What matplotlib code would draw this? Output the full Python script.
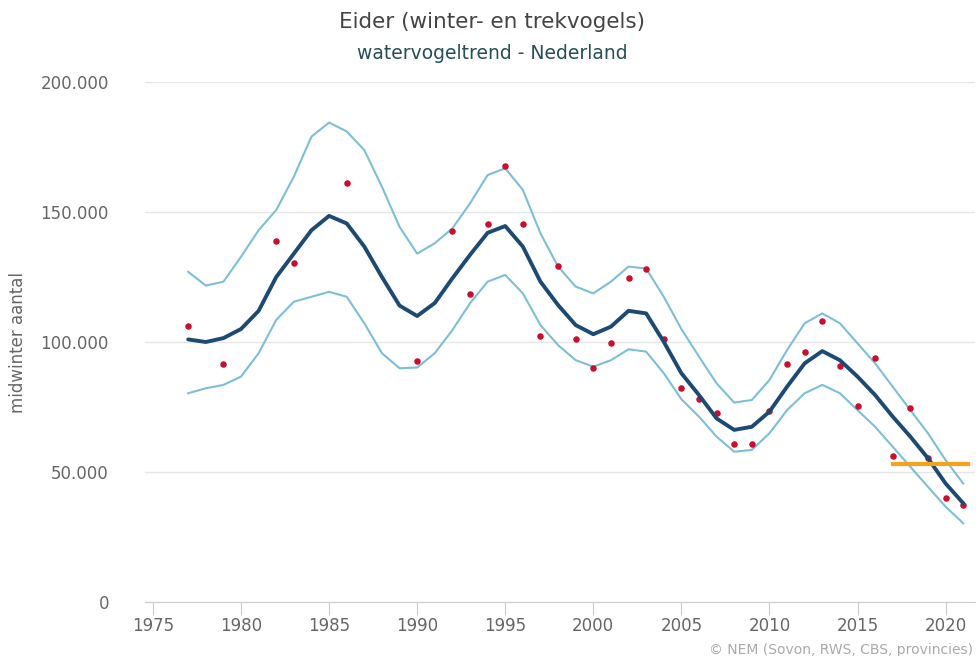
import numpy as np
import matplotlib
matplotlib.use("Agg")
import matplotlib.pyplot as plt
from matplotlib.ticker import FuncFormatter

# trend (x1000 birds)
years = list(range(1977, 2022))
trend = [101, 100, 101.5, 105, 112, 125, 134, 143, 148.5, 145.6, 136.7, 125, 114, 110,
         115, 124.5, 133.5, 142, 144.6, 136.7, 123.2, 114.2, 106.5, 103, 105.9, 112, 111,
         100.1, 88, 79.6, 70.6, 66.2, 67.4, 73.2, 82.8, 91.8, 96.5, 93, 86.7, 79.6, 71.3,
         63.6, 55.3, 45.6, 38]
upper = [127, 121.7, 123.2, 132.8, 143, 150.8, 163.6, 179, 184.4, 181, 173.8, 159.7, 144.3,
         134, 138, 143.7, 153.3, 164.2, 166.8, 158.5, 141.8, 129, 121.3, 118.7, 123.2, 129,
         128.3, 117.4, 105, 94.4, 84.1, 76.7, 77.7, 85.4, 96.9, 107.2, 111, 107.2, 99.5,
         91.8, 82.8, 73.8, 64.9, 54.6, 45.6]
lower = [80.3, 82.2, 83.5, 86.7, 95.7, 108.5, 115.5, 117.4, 119.3, 117.4, 107.2, 95.7, 89.9,
         90.2, 95.7, 104.6, 114.9, 123.2, 125.8, 118.7, 106.5, 98.8, 93, 90.5, 93, 97.2,
         96.3, 88, 78, 71.3, 63.6, 57.8, 58.5, 64.9, 73.8, 80.3, 83.5, 80.3, 73.8, 67.4,
         59.7, 52, 44.3, 36.7, 30.3]

# yearly counts (x1000)
count_years = [1977, 1979, 1982, 1983, 1986, 1990, 1992, 1993, 1994, 1995, 1996, 1997,
               1998, 1999, 2000, 2001, 2002, 2003, 2004, 2005, 2006, 2007, 2008, 2009,
               2010, 2011, 2012, 2013, 2014, 2015, 2016, 2017, 2018, 2019, 2020, 2021]
counts = [106.2, 91.4, 138.8, 130.5, 161.3, 92.7, 142.8, 118.3, 145.3, 167.8, 145.3, 102.3,
          129.2, 101, 90.1, 99.7, 124.7, 128, 101, 82.4, 78, 72.8, 60.6, 60.6, 73.5, 91.4,
          96, 108.1, 90.8, 75.4, 94, 56.2, 74.7, 55.5, 40.1, 37.3]

# reference level
ref_years = [2017, 2021.3]
ref_level = 53

to_n = lambda v: np.array(v) * 1000

fig = plt.figure(figsize=(9.76, 6.56), dpi=100)
ax = fig.add_axes([0.1486, 0.0823, 0.85, 0.7927])

ax.plot(years, to_n(upper), color="#7dbfd6", lw=1.5, zorder=2)
ax.plot(years, to_n(lower), color="#7dbfd6", lw=1.5, zorder=2)
ax.scatter(count_years, to_n(counts), s=22, color="#c8102e", zorder=3, linewidths=0)
ax.plot(years, to_n(trend), color="#1d4a72", lw=2.8, zorder=4, solid_capstyle="round")
ax.plot(ref_years, [ref_level * 1000] * 2, color="#f5a21c", lw=3, zorder=5)

ax.set_xlim(1974.55, 2021.65)
ax.set_ylim(0, 200000)
ax.set_yticks([0, 50000, 100000, 150000, 200000])
ax.set_xticks(range(1975, 2021, 5))
ax.yaxis.set_major_formatter(FuncFormatter(lambda v, p: f"{int(v):,}".replace(",", ".")))

ax.grid(axis="y", color="#e6e6e6", lw=1)
ax.set_axisbelow(True)
for s in ["top", "right", "left"]:
    ax.spines[s].set_visible(False)
ax.spines["bottom"].set_color("#cccccc")
ax.tick_params(axis="y", length=0, labelsize=12, labelcolor="#666666", pad=26)
ax.tick_params(axis="x", length=9, color="#cccccc", labelsize=12, labelcolor="#666666", pad=2)

ax.set_ylabel("midwinter aantal", fontsize=12, color="#666666", labelpad=10)

fig.text(0.504, 0.966, "Eider (winter- en trekvogels)", ha="center", va="center",
         fontsize=15.5, color="#444444")
fig.text(0.504, 0.918, "watervogeltrend - Nederland", ha="center", va="center",
         fontsize=13.5, color="#244f57")
fig.text(0.997, 0.009, "© NEM (Sovon, RWS, CBS, provincies)", ha="right", va="center",
         fontsize=10, color="#aaaaaa")

fig.savefig("out.png", dpi=100)
